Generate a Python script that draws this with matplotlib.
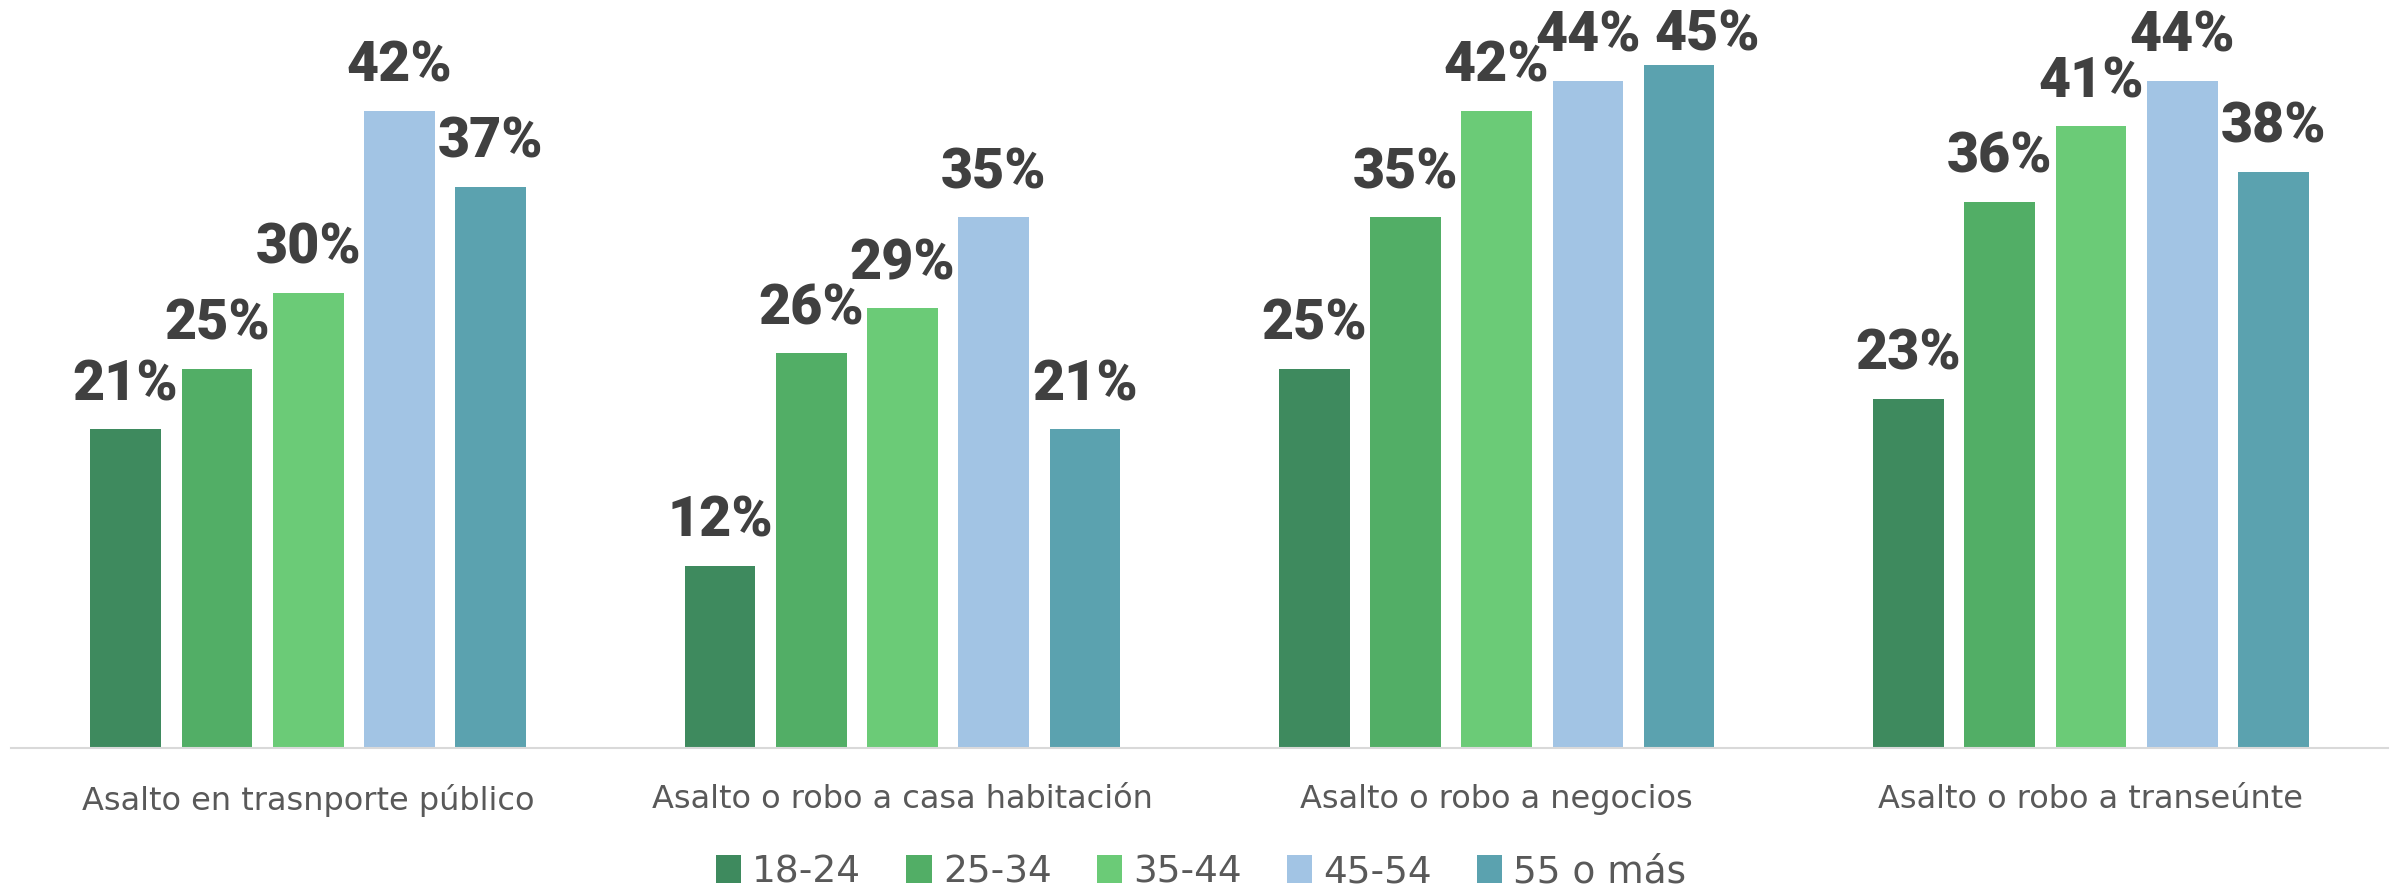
import numpy as np
import matplotlib
matplotlib.use("Agg")
import matplotlib.pyplot as plt
from matplotlib.patches import Patch

plt.rcParams["font.family"] = ["Roboto", "DejaVu Sans"]

categories = [
    "Asalto en trasnporte público",
    "Asalto o robo a casa habitación",
    "Asalto o robo a negocios",
    "Asalto o robo a transeúnte",
]
age_groups = ["18-24", "25-34", "35-44", "45-54", "55 o más"]
colors = ["#3E8A5E", "#52AE66", "#6BCB77", "#A2C4E4", "#5BA2AF"]

v_18_24 = [21, 12, 25, 23]
v_25_34 = [25, 26, 35, 36]
v_35_44 = [30, 29, 42, 41]
v_45_54 = [42, 35, 44, 44]
v_55_mas = [37, 21, 45, 38]
series = [v_18_24, v_25_34, v_35_44, v_45_54, v_55_mas]

fig = plt.figure(figsize=(24.02, 8.88), dpi=100)
ax = fig.add_axes([0.0046, 0.1581, 0.9896, 0.8365])

x = np.arange(len(categories))
width = 0.119
step = 0.1535
label_gap = 1.91   # gap between bar top and label baseline, in data units
label_max = 46.0   # labels are kept inside the plot area

for i, (vals, col) in enumerate(zip(series, colors)):
    pos = x + (i - 2) * step
    ax.bar(pos, vals, width=width, color=col, zorder=2)
    for p, v in zip(pos, vals):
        y = v + label_gap
        dx = 0
        if y > label_max:
            # pushed down into the plot, so nudge it right off its neighbour
            y = label_max
            dx = 0.047
        ax.text(p + dx, y, f"{v}%",
                ha="center", va="baseline", fontsize=40,
                fontweight="heavy", color="#404040")

ax.set_xlim(-0.5, 3.5)
ax.set_ylim(0, 49)
ax.set_xticks(x)
ax.set_xticklabels(categories, fontsize=23, color="#595959",
                   family="DejaVu Sans")
ax.tick_params(axis="x", length=0, pad=26)
ax.set_yticks([])
for s in ["top", "right", "left"]:
    ax.spines[s].set_visible(False)
ax.spines["bottom"].set_color("#D9D9D9")
ax.spines["bottom"].set_linewidth(1.5)

handles = [Patch(facecolor=c, edgecolor="none") for c in colors]
fig.legend(handles, age_groups, loc="center", bbox_to_anchor=(0.5, 0.018),
           ncol=5, frameon=False, labelcolor="#595959",
           prop={"family": "DejaVu Sans", "size": 27},
           handlelength=0.67, handleheight=0.75, handletextpad=0.3,
           columnspacing=1.2, borderpad=0)

fig.savefig("out.png", dpi=100)
